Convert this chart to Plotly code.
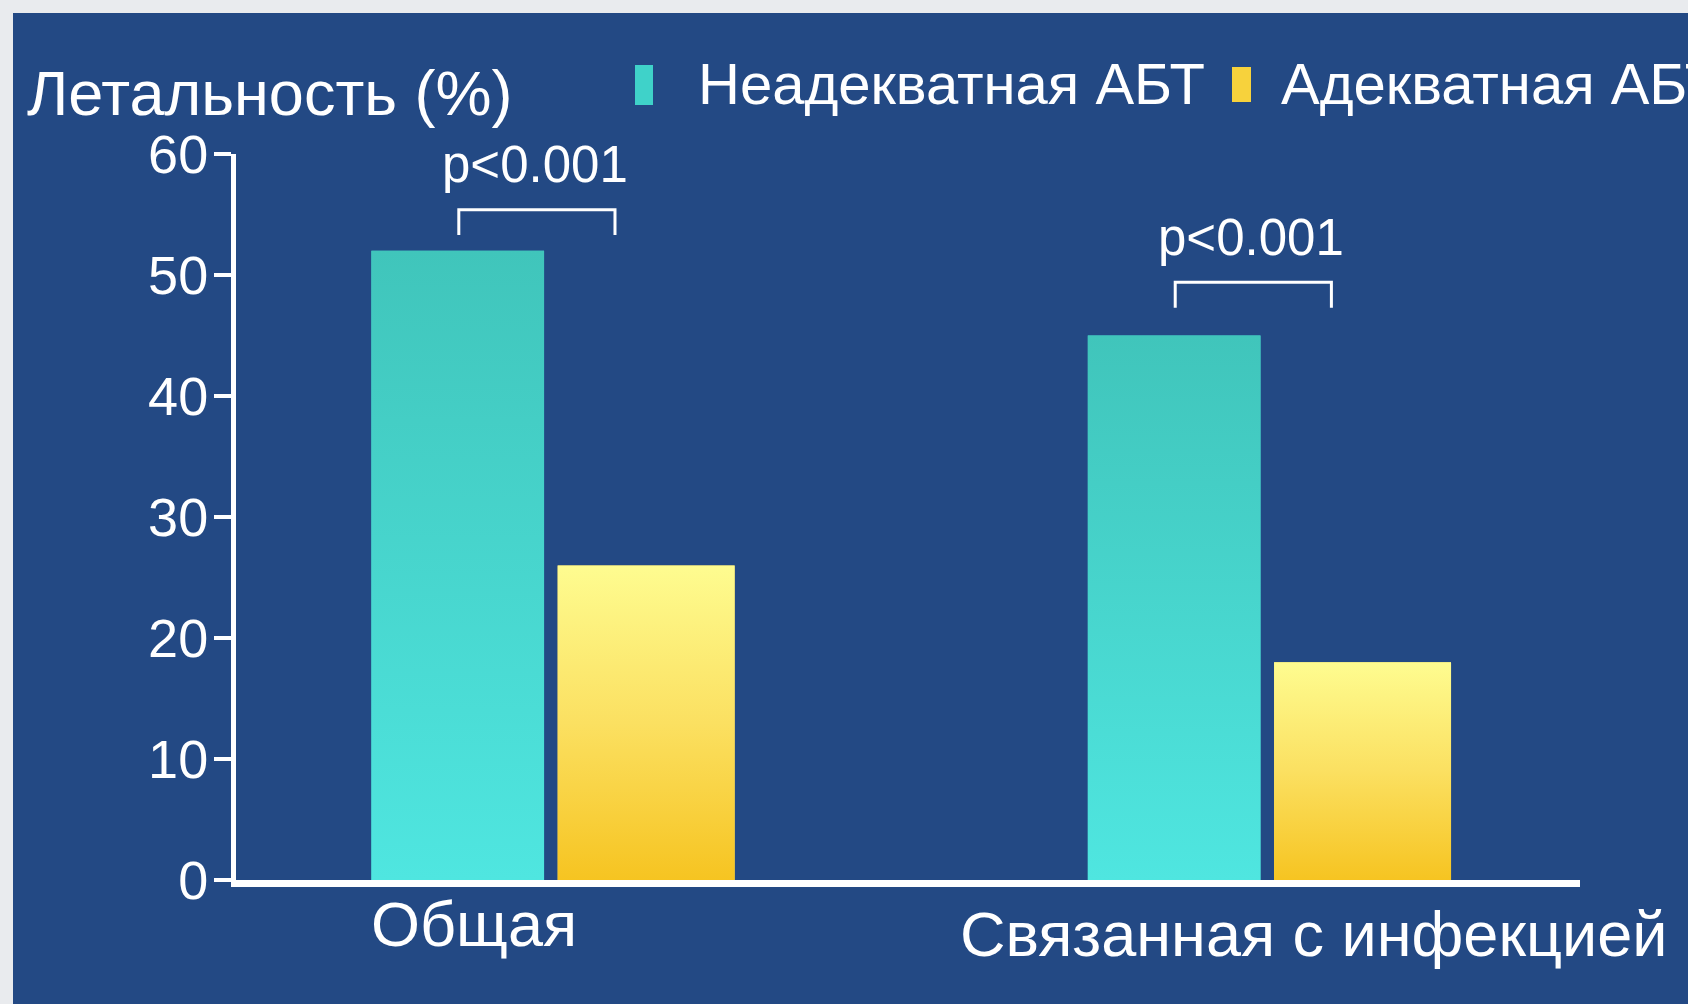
import plotly.graph_objects as go

# ---- data -------------------------------------------------------------
categories = ["Общая", "Связанная с инфекцией"]
series_names = ["Неадекватная АБТ", "Адекватная АБТ"]
inadequate = [52, 45]          # mortality, %, inadequate antibiotic therapy
adequate = [26, 18]            # mortality, %, adequate antibiotic therapy
p_labels = ["p<0.001", "p<0.001"]
y_ticks = [0, 10, 20, 30, 40, 50, 60]
y_title = "Летальность (%)"

# ---- layout constants -------------------------------------------------
W, H = 1688, 1004
M_L, M_R, M_T, M_B = 236, 108, 154, 124
PW = W - M_L - M_R
PH = H - M_T - M_B
X_RANGE = [-0.439, 1.437]


def px_x(px):
    """pixel column -> paper x"""
    return (px - M_L) / PW


def px_y(py):
    """pixel row -> paper y"""
    return (H - M_B - py) / PH


BG = "#234984"
FRAME = "#e9ebee"
WHITE = "#ffffff"
FONT = "Liberation Sans, Arial, sans-serif"

TEAL_SCALE = [[0, "#4fe6e0"], [1, "#40c5bb"]]
YELLOW_SCALE = [[0, "#f6c421"], [0.5, "#fbe061"], [1, "#fefc90"]]

series = [
    dict(name=series_names[0], values=inadequate, offset=-0.25, width=0.241,
         solid="#46d6cf", scale=TEAL_SCALE),
    dict(name=series_names[1], values=adequate, offset=0.01, width=0.247,
         solid="#fbe061", scale=YELLOW_SCALE),
]

x_pos = list(range(len(categories)))

fig = go.Figure()

# bars
for s in series:
    fig.add_trace(go.Bar(
        x=x_pos, y=s["values"], width=s["width"], offset=s["offset"],
        name=s["name"], marker=dict(color=s["solid"], line=dict(width=0)),
        customdata=categories, showlegend=False,
        hovertemplate="%{customdata}<br>" + s["name"] + ": %{y}%<extra></extra>",
    ))

# vertical colour gradient laid over each bar
for s in series:
    for xi, v in zip(x_pos, s["values"]):
        x0 = xi + s["offset"]
        x1 = x0 + s["width"]
        fig.add_trace(go.Scatter(
            x=[x0, x0, x1, x1, x0], y=[0, v, v, 0, 0],
            mode="lines", line=dict(width=0), fill="toself",
            fillgradient=dict(type="vertical", colorscale=s["scale"], start=0, stop=v),
            hoverinfo="skip", showlegend=False,
        ))

shapes = []
annotations = []

# dark-blue slide panel behind everything
shapes.append(dict(type="rect", xref="paper", yref="paper", layer="below",
                   x0=px_x(13), x1=px_x(W + 5), y0=px_y(H + 5), y1=px_y(13),
                   fillcolor=BG, line=dict(width=0)))

# significance brackets and p-values
BR_LEFT, BR_RIGHT = -0.128, 0.09
br_top = [55.4, 49.4]
br_bottom = [53.3, 47.3]
p_y = [59.1, 53.1]
for xi, top, bot, py, lab in zip(x_pos, br_top, br_bottom, p_y, p_labels):
    xl, xr = xi + BR_LEFT, xi + BR_RIGHT
    shapes.append(dict(type="path", xref="x", yref="y",
                       path=f"M {xl},{bot} L {xl},{top} L {xr},{top} L {xr},{bot}",
                       line=dict(color=WHITE, width=3)))
    annotations.append(dict(x=xi - 0.022, y=py, xref="x", yref="y", text=lab,
                            showarrow=False, xanchor="center", yanchor="middle",
                            font=dict(family=FONT, size=51, color=WHITE)))

# category labels under the axis
cat_dx = [-0.107, 0.065]
cat_y = [924, 934]
for xi, lab, dx, cy in zip(x_pos, categories, cat_dx, cat_y):
    annotations.append(dict(x=xi + dx, y=px_y(cy), xref="x", yref="paper", text=lab,
                            showarrow=False, xanchor="center", yanchor="middle",
                            font=dict(family=FONT, size=63, color=WHITE)))

# axis title, top-left
annotations.append(dict(x=px_x(25), y=px_y(93), xref="paper", yref="paper",
                        text=y_title, showarrow=False, xanchor="left", yanchor="middle",
                        font=dict(family=FONT, size=63, color=WHITE)))

# legend: coloured swatches + text
legend_items = [
    dict(text=series_names[0], sw=(635, 653, 65, 105), tx=696, color="#3fd2c9"),
    dict(text=series_names[1], sw=(1232, 1251, 67, 102), tx=1279, color="#f7d23c"),
]
for it in legend_items:
    x0, x1, y0, y1 = it["sw"]
    shapes.append(dict(type="rect", xref="paper", yref="paper",
                       x0=px_x(x0), x1=px_x(x1), y0=px_y(y1), y1=px_y(y0),
                       fillcolor=it["color"], line=dict(width=0)))
    annotations.append(dict(x=px_x(it["tx"]), y=px_y(83), xref="paper", yref="paper",
                            text=it["text"], showarrow=False,
                            xanchor="left", yanchor="middle",
                            font=dict(family=FONT, size=58, color=WHITE)))

fig.update_layout(
    width=W, height=H,
    margin=dict(l=M_L, r=M_R, t=M_T, b=M_B, pad=0),
    paper_bgcolor=FRAME, plot_bgcolor="rgba(0,0,0,0)",
    showlegend=False,
    shapes=shapes, annotations=annotations,
    xaxis=dict(range=X_RANGE, showgrid=False, zeroline=False,
               showline=True, linecolor=WHITE, linewidth=7,
               ticks="", showticklabels=False, fixedrange=True),
    yaxis=dict(range=[0, 60], tickvals=y_ticks, showgrid=False, zeroline=False,
               showline=True, linecolor=WHITE, linewidth=5,
               ticks="outside", ticklen=17, tickwidth=4, tickcolor=WHITE,
               tickfont=dict(family=FONT, size=54, color=WHITE),
               ticklabelstandoff=-5, fixedrange=True),
)

fig.write_html("out.html")
